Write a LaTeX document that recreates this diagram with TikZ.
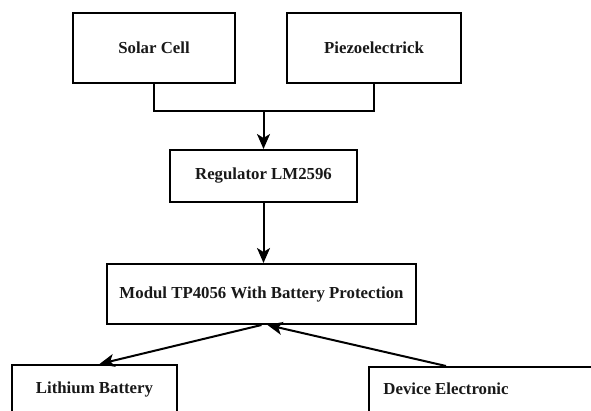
\documentclass[tikz,border=0pt]{standalone}
\usepackage{fontspec}
\setmainfont{Liberation Serif}
\usetikzlibrary{arrows.meta,calc}
\tikzset{
  box/.style={draw=black, line width=2pt, rectangle, inner sep=0pt, fill=white},
  lbl/.style={font=\fontsize{16.8}{20}\selectfont\bfseries, text=black!90, inner sep=0pt},
  conn/.style={draw=black, line width=2pt},
  arr/.style={draw=black, line width=2pt, -{Stealth[length=15pt,width=13pt,inset=4pt]}}
}
\begin{document}
\begin{tikzpicture}[x=1pt,y=-1pt]
\useasboundingbox (0,0) rectangle (591,411);
\clip (0,0) rectangle (591,411);
\fill[white] (0,0) rectangle (591,411);
\node[box, lbl, minimum width=162pt, minimum height=70pt] (solar) at (154,48) {Solar Cell};
\node[box, lbl, minimum width=174pt, minimum height=70pt] (piezo) at (374,48) {Piezoelectrick};
\node[box, lbl, minimum width=187pt, minimum height=52pt] (reg) at (263.5,176) {Regulator LM2596};
\node[box, lbl, minimum width=309pt, minimum height=60pt] (mod) at (261.5,294) {Modul TP4056 With Battery Protection};
\node[box, minimum width=165pt, minimum height=75pt] (lith) at (94.5,402.5) {};
\node[lbl] (lithtext) at (94.5,389) {Lithium Battery};
\node[box, minimum width=251pt, minimum height=75pt] (dev) at (494.5,404.5) {};
\node[lbl] (devtext) at (446,389) {Device Electronic};
\coordinate (j) at (263.5,111);
\draw[conn] (solar.south) -- (solar.south |- j) -- (piezo.south |- j) -- (piezo.south);
\draw[arr] (j) -- (reg.north);
\draw[arr] (reg.south) -- (reg.south |- mod.north);
\draw[arr] (mod.south) -- ([xshift=5pt]lith.north);
\draw[arr] (devtext |- dev.north) -- ([xshift=6pt]mod.south);
\end{tikzpicture}
\end{document}
